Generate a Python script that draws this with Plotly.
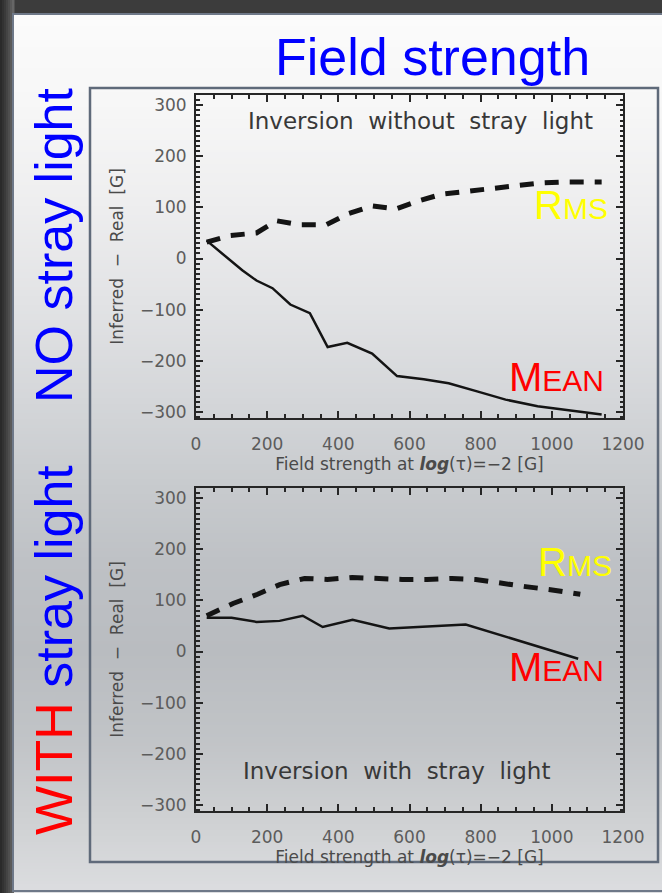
import plotly.graph_objects as go

W, H = 662, 893

# ---- data: inferred minus real field strength [G] vs. real field strength [G]
# inversion without stray light
top_mean_x = [30, 130, 170, 215, 265, 320, 370, 425, 495, 565, 640, 710, 790, 870, 960, 1050, 1140]
top_mean_y = [35, -23, -43, -58, -90, -107, -173, -165, -186, -230, -236, -244, -260, -276, -289, -297, -305]
top_rms_x = [30, 95, 170, 226, 291, 366, 425, 495, 562, 627, 691, 766, 831, 898, 971, 1038, 1140]
top_rms_y = [32, 45, 50, 74, 66, 66, 87, 103, 97, 113, 126, 132, 138, 144, 148, 150, 150]

# inversion with stray light
bot_mean_x = [30, 100, 170, 235, 300, 356, 440, 543, 758, 1074]
bot_mean_y = [66, 66, 58, 60, 70, 48, 62, 45, 53, -14]
bot_rms_x = [30, 104, 173, 235, 305, 369, 439, 515, 579, 649, 719, 786, 856, 926, 996, 1080]
bot_rms_y = [70, 94, 112, 131, 143, 141, 145, 142, 141, 141, 143, 141, 133, 127, 121, 112]

x_ticks = [0, 200, 400, 600, 800, 1000, 1200]
y_ticks = [-300, -200, -100, 0, 100, 200, 300]


def px(x):
    return x / W


def py(y):
    return 1 - y / H


def hexmix(c1, c2, t):
    a = [int(c1[i:i + 2], 16) for i in (1, 3, 5)]
    b = [int(c2[i:i + 2], 16) for i in (1, 3, 5)]
    return "#%02x%02x%02x" % tuple(round(a[k] + (b[k] - a[k]) * t) for k in range(3))


fig = go.Figure()

LINE = "#141414"
fig.add_trace(go.Scatter(x=top_mean_x, y=top_mean_y, mode="lines",
                         line=dict(color=LINE, width=2.5), xaxis="x", yaxis="y"))
fig.add_trace(go.Scatter(x=top_rms_x, y=top_rms_y, mode="lines",
                         line=dict(color=LINE, width=5, dash="14px,11px"), xaxis="x", yaxis="y"))
fig.add_trace(go.Scatter(x=bot_mean_x, y=bot_mean_y, mode="lines",
                         line=dict(color=LINE, width=2.5), xaxis="x2", yaxis="y2"))
fig.add_trace(go.Scatter(x=bot_rms_x, y=bot_rms_y, mode="lines",
                         line=dict(color=LINE, width=5, dash="14px,11px"), xaxis="x2", yaxis="y2"))

# ---- slide background: vertical grey gradient inside a framed panel
stops = [(14, "#fbfbfb"), (100, "#f7f7f7"), (200, "#eeeeef"), (300, "#e2e3e5"),
         (400, "#d4d6d9"), (480, "#c8cbce"), (560, "#bec1c5"), (650, "#b9bcc0"),
         (740, "#c1c4c7"), (820, "#cfd1d3"), (892, "#dcdde0")]
shapes = []
# dark outer frame on the left edge
edge = ["#2a2a2a", "#323232", "#3a3a3a", "#444444", "#4e4e4e", "#5a5a5a", "#666666"]
for i, c in enumerate(edge):
    shapes.append(dict(type="rect", xref="paper", yref="paper", layer="below",
                       x0=px(i * 2), x1=px(i * 2 + 2.5), y0=0, y1=1,
                       fillcolor=c, line=dict(width=0)))
step = 3
y = 14
while y < 893:
    for (a, ca), (b, cb) in zip(stops[:-1], stops[1:]):
        if a <= y <= b:
            col = hexmix(ca, cb, (y - a) / (b - a))
            break
    else:
        col = stops[-1][1]
    # strips overlap by one pixel so no seams show between them
    shapes.append(dict(type="rect", xref="paper", yref="paper", layer="below",
                       x0=px(14), x1=1, y0=py(min(y + step + 1, 893)), y1=py(y),
                       fillcolor=col, line=dict(width=0)))
    y += step
# panel border
shapes.append(dict(type="rect", xref="paper", yref="paper", layer="below",
                   x0=px(13), x1=px(666), y0=py(891), y1=py(14),
                   line=dict(color="#6e7888", width=2)))
# frame around the two plots
shapes.append(dict(type="rect", xref="paper", yref="paper", layer="below",
                   x0=px(90), x1=px(658), y0=py(862), y1=py(88),
                   line=dict(color="#5f6a7a", width=2.5)))

AX = "#262626"
TICKFONT = dict(family="DejaVu Sans", size=17, color="#5c5c5c")
TITLEFONT = dict(family="DejaVu Sans", size=17, color="#4a4a4a")
xtitle = "Field strength at <b><i>log</i></b>(τ)=−2 [G]"
ytitle = "Inferred  −  Real  [G]"


def xaxis(anchor):
    return dict(domain=[px(196), px(623)], range=[0, 1200], anchor=anchor, automargin=False,
                tickvals=x_ticks, ticks="inside", ticklen=7, tickwidth=2, tickcolor=AX,
                minor=dict(dtick=50, tick0=0, ticks="inside", ticklen=4, tickwidth=1.5, tickcolor=AX),
                showline=True, linecolor=AX, linewidth=2, mirror="allticks",
                showgrid=False, zeroline=False, tickfont=TICKFONT, ticklabelstandoff=10,
                title=dict(text=xtitle, font=TITLEFONT, standoff=1))


def yaxis(dom, anchor):
    return dict(domain=dom, range=[-312, 320], anchor=anchor, automargin=False,
                tickvals=y_ticks, ticks="inside", ticklen=7, tickwidth=2, tickcolor=AX,
                minor=dict(dtick=10, tick0=0, ticks="inside", ticklen=3.5, tickwidth=1.5, tickcolor=AX),
                showline=True, linecolor=AX, linewidth=2, mirror="allticks",
                showgrid=False, zeroline=False, tickfont=TICKFONT, ticklabelstandoff=4,
                title=dict(text=ytitle, font=TITLEFONT, standoff=12))


def label(x, y, text, size, color, angle=0):
    return dict(xref="paper", yref="paper", x=px(x), y=py(y), text=text, showarrow=False,
                xanchor="center", yanchor="middle", textangle=angle,
                font=dict(family="Liberation Sans", size=size, color=color))


annotations = [
    label(432, 57, "Field strength", 52, "#0000ff"),
    label(54, 245, "NO stray light", 52, "#0000ff", -90),
    label(54, 650, "<span style='color:#ff0000'>WITH</span> stray light", 52, "#0000ff", -90),
    label(571, 205, "R<span style='font-size:30px'>MS</span>", 40, "#ffff00"),
    label(556, 377, "M<span style='font-size:30px'>EAN</span>", 40, "#ff0000"),
    label(575, 562, "R<span style='font-size:30px'>MS</span>", 40, "#ffff00"),
    label(556, 667, "M<span style='font-size:30px'>EAN</span>", 40, "#ff0000"),
]
for xc, yc, txt in [(420, 121, "Inversion\u00a0\u00a0without\u00a0\u00a0stray\u00a0\u00a0light"),
                    (397, 771, "Inversion\u00a0\u00a0with\u00a0\u00a0stray\u00a0\u00a0light")]:
    annotations.append(dict(xref="paper", yref="paper", x=px(xc), y=py(yc), text=txt,
                            showarrow=False, xanchor="center", yanchor="middle",
                            font=dict(family="DejaVu Sans", size=23, color="#383838")))

fig.update_layout(
    width=W, height=H, margin=dict(l=0, r=0, t=0, b=0, autoexpand=False),
    paper_bgcolor="#3c3c3c", plot_bgcolor="rgba(0,0,0,0)",
    showlegend=False,
    xaxis=xaxis("y"),
    yaxis=yaxis([py(418), py(95)], "x"),
    xaxis2=xaxis("y2"),
    yaxis2=yaxis([py(811), py(488)], "x2"),
    shapes=shapes, annotations=annotations,
)

fig.write_html("out.html")
